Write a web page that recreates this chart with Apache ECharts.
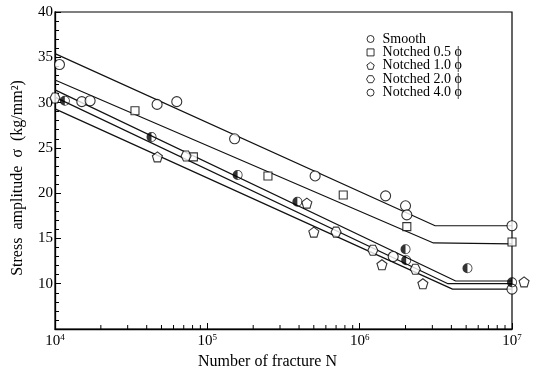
<!DOCTYPE html>
<html>
<head>
<meta charset="utf-8">
<script src="https://cdn.jsdelivr.net/npm/echarts@6/dist/echarts.min.js"></script>
<style>
html,body{margin:0;padding:0;background:#fff;}
#c{width:534px;height:369px;}
</style>
</head>
<body>
<div id="c"></div>
<script>
// ---- data (N cycles, stress amplitude kg/mm^2) ----
const seriesNames = ['Smooth', 'Notched 0.5 ϕ', 'Notched 1.0 ϕ', 'Notched 2.0 ϕ', 'Notched 4.0 ϕ'];

const smooth = [[1.07e4,34.2],[4.68e4,29.8],[6.3e4,30.1],[1.51e5,26.0],[5.1e5,21.9],[1.48e6,19.7],[2.0e6,18.6],[2.04e6,17.6],[1.0e7,16.4]];
const notched05 = [[3.35e4,29.1],[8.1e4,24.0],[2.5e5,21.9],[7.8e5,19.8],[2.04e6,16.3],[1.0e7,14.6]];
const notched10 = [[4.7e4,24.0],[4.5e5,18.9],[5.0e5,15.7],[1.4e6,12.1],[2.6e6,10.0],[1.2e7,10.2]];
const notched20 = [[1.0e4,30.5],[7.25e4,24.1],[7.0e5,15.7],[1.22e6,13.7],[2.32e6,11.6]];
const notched40Open = [[1.5e4,30.1],[1.7e4,30.2],[1.66e6,13.0],[1.0e7,9.4]];
const notched40Half = [[1.16e4,30.2],[4.3e4,26.2],[1.58e5,22.0],[3.9e5,19.05],[2.0e6,13.8],[2.02e6,12.6],[5.1e6,11.7],[1.0e7,10.15]];

// fitted S-N lines: start, knee, endurance limit
const lineSmooth = [[1e4,35.4],[3.13e6,16.4],[1e7,16.4]];
const line05 = [[1e4,32.5],[3.05e6,14.5],[1e7,14.4]];
const lineC = [[1e4,31.4],[4.27e6,10.3],[1e7,10.3]];
const lineD = [[1e4,30.6],[3.8e6,10.0],[1e7,10.0]];
const lineE = [[1e4,29.3],[4.07e6,9.4],[1e7,9.4]];

const xMinorTicks = [2e4,3e4,4e4,5e4,6e4,7e4,8e4,9e4,2e5,3e5,4e5,5e5,6e5,7e5,8e5,9e5,2e6,3e6,4e6,5e6,6e6,7e6,8e6,9e6];
const yTickLabelsMin = 5;

// ---- symbols ----
const PENT = 'path://M0,-10L9.51,-3.09L5.88,8.09L-5.88,8.09L-9.51,-3.09Z';
const HEX = 'path://M-10,0L-5,-8.66L5,-8.66L10,0L5,8.66L-5,8.66Z';
const SQ = 'path://M0,0L10,0L10,10L0,10Z';
const HALF = 'path://M0,-10A10,10,0,1,1,0,10A10,10,0,1,1,0,-10Z M0,-8.4A8.4,8.4,0,1,0,0,8.4A8.4,8.4,0,1,0,0,-8.4Z M0,-8.4A8.4,8.4,0,0,0,0,8.4Z';

const SERIF = '"Liberation Serif","DejaVu Serif",serif';
const openStyle = {color:'#fff', borderColor:'#000', borderWidth:1.1};

function lineSeries(data){
  return {type:'line', data:data, symbol:'none', silent:true, z:1,
    lineStyle:{color:'#111', width:1.2}, clip:false, animation:false};
}
function scatter(name, data, symbol, size){
  return {type:'scatter', name:name, data:data, symbol:symbol, symbolSize:size,
    itemStyle:openStyle, z:3, clip:false, animation:false};
}

const chart = echarts.init(document.getElementById('c'), null, {renderer:'canvas'});
chart.setOption({
  backgroundColor:'#fff',
  animation:false,
  grid:{left:55, right:22, top:12, bottom:40, show:true, borderColor:'#000', borderWidth:1.2, containLabel:false, outerBoundsMode:'none'},
  legend:{
    orient:'vertical', left:361, top:27, itemWidth:14, itemHeight:7, itemGap:-0.6,
    symbolKeepAspect:true,
    textStyle:{fontFamily:SERIF, fontSize:14, color:'#000', lineHeight:13},
    itemStyle:{borderWidth:1},
    data:[
      {name:seriesNames[0], icon:'circle'},
      {name:seriesNames[1], icon:SQ},
      {name:seriesNames[2], icon:PENT},
      {name:seriesNames[3], icon:HEX},
      {name:seriesNames[4], icon:'circle'}
    ],
    selectedMode:false
  },
  xAxis:{
    type:'log', logBase:10, min:1e4, max:1e7,
    name:'Number of fracture N', nameLocation:'middle', nameGap:22,
    nameTextStyle:{fontFamily:SERIF, fontSize:16, color:'#000', padding:[0,32,0,0]},
    axisLine:{lineStyle:{color:'#000', width:1.3}},
    axisTick:{inside:true, length:6, lineStyle:{color:'#000'}},
    minorTick:{show:false},
    splitLine:{show:false},
    axisLabel:{margin:4, color:'#000',
      formatter:function(v){ return '{b|10}{s|' + Math.round(Math.log10(v)) + '}'; },
      rich:{
        b:{fontFamily:SERIF, fontSize:15, color:'#000', lineHeight:16},
        s:{fontFamily:SERIF, fontSize:9, color:'#000', verticalAlign:'top', lineHeight:10}
      }
    }
  },
  yAxis:{
    type:'value', min:yTickLabelsMin, max:40, interval:5,
    name:'Stress  amplitude  σ  (kg/mm²)', nameLocation:'middle', nameGap:29, nameRotate:90,
    nameTextStyle:{fontFamily:SERIF, fontSize:16, color:'#000', padding:[0,15,0,0]},
    axisLine:{show:true, lineStyle:{color:'#000', width:1.3}},
    axisTick:{inside:true, length:6, lineStyle:{color:'#000'}},
    minorTick:{show:true, splitNumber:5, length:4, lineStyle:{color:'#000'}},
    splitLine:{show:false},
    axisLabel:{showMinLabel:false, margin:2, color:'#000', fontFamily:SERIF, fontSize:15}
  },
  series:[
    lineSeries(lineSmooth), lineSeries(line05), lineSeries(lineC), lineSeries(lineD), lineSeries(lineE),
    {type:'custom', silent:true, z:2, animation:false,
      data:xMinorTicks.map(function(v){return [v, yTickLabelsMin];}),
      renderItem:function(params, api){
        const p = api.coord([api.value(0), api.value(1)]);
        return {type:'line', shape:{x1:p[0], y1:p[1], x2:p[0], y2:p[1]-4}, style:{stroke:'#000', lineWidth:1}};
      }
    },
    scatter(seriesNames[0], smooth, 'circle', 10),
    scatter(seriesNames[1], notched05, SQ, 8),
    scatter(seriesNames[2], notched10, PENT, 10),
    scatter(seriesNames[3], notched20, HEX, 10),
    {type:'scatter', name:seriesNames[4], symbol:'circle', symbolSize:10, itemStyle:openStyle, z:3, clip:false, animation:false,
      data: notched40Open.map(function(p){return {value:p};}).concat(
            notched40Half.map(function(p){return {value:p, symbol:HALF, itemStyle:{color:'#000', borderWidth:0}};}))
    }
  ]
});
</script>
</body>
</html>
